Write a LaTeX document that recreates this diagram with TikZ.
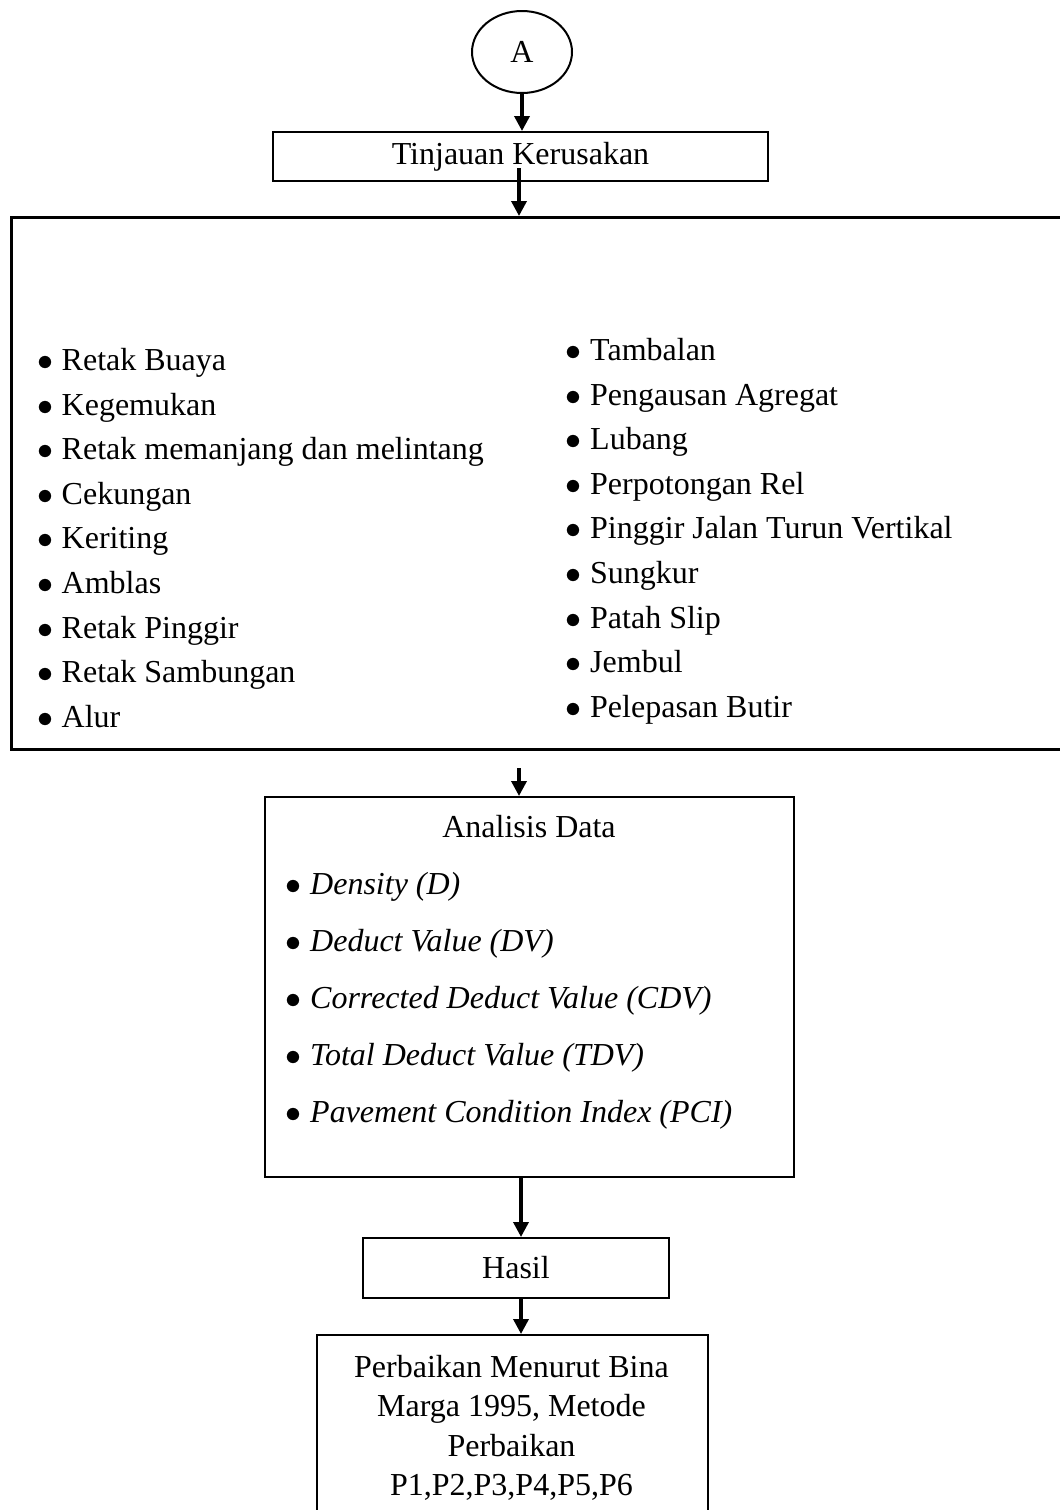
\documentclass[tikz,border=0pt]{standalone}
\usepackage{fix-cm}
\usepackage{fontspec}
\setmainfont{Liberation Serif}
\usetikzlibrary{shapes.geometric,arrows.meta}

\newcommand{\butir}{\makebox[24.5pt][l]{\upshape$\bullet$}}

\begin{document}
\begin{tikzpicture}[
x=1pt, y=-1pt,
kotak/.style={rectangle, draw=black, line width=2pt, inner sep=0pt},
bulat/.style={ellipse, draw=black, line width=2pt, minimum width=100pt, minimum height=82pt, inner sep=0pt},
judul/.style={inner sep=0pt, font=\fontsize{32}{38}\selectfont},
daftar/.style={align=left, anchor=north west, inner sep=0pt},
panah/.style={-{Triangle[length=15pt,width=15pt]}, line width=3.5pt},
]
\useasboundingbox (0,0) rectangle (1060,1510);
\clip (0,0) rectangle (1060,1510);

%Nodes
\node[bulat](a) at (522,52) {\fontsize{32}{38}\selectfont A};
\node[kotak, minimum width=495pt, minimum height=49pt](tinjauan) at (520.5,156.5) {\fontsize{32}{38}\selectfont Tinjauan Kerusakan};
\node[kotak, line width=2.5pt, minimum width=1090pt, minimum height=532pt, anchor=north west](kerusakan) at (10,216) {};
\node[daftar, font=\fontsize{32}{44.6}\selectfont](kiri) at (37,348.1) {%
\butir Retak Buaya\\
\butir Kegemukan\\
\butir Retak memanjang dan melintang\\
\butir Cekungan\\
\butir Keriting\\
\butir Amblas\\
\butir Retak Pinggir\\
\butir Retak Sambungan\\
\butir Alur};
\node[daftar, font=\fontsize{32}{44.6}\selectfont](kanan) at (565.5,338.1) {%
\butir Tambalan\\
\butir Pengausan Agregat\\
\butir Lubang\\
\butir Perpotongan Rel\\
\butir Pinggir Jalan Turun Vertikal\\
\butir Sungkur\\
\butir Patah Slip\\
\butir Jembul\\
\butir Pelepasan Butir};
\node[kotak, minimum width=529pt, minimum height=380pt, anchor=north west](analisis) at (264,796) {};
\node[judul, anchor=base](analisisjudul) at (529,837) {Analisis Data};
\node[daftar, font=\fontsize{32}{57}\selectfont\itshape](parameter) at (285.5,871.8) {%
\butir Density (D)\\
\butir Deduct Value (DV)\\
\butir Corrected Deduct Value (CDV)\\
\butir Total Deduct Value (TDV)\\
\butir Pavement Condition Index (PCI)};
\node[kotak, minimum width=306pt, minimum height=60pt](hasil) at (516,1268) {\fontsize{32}{38}\selectfont Hasil};
\node[kotak, minimum width=391pt, minimum height=220pt, anchor=north west](perbaikan) at (316,1334) {};
\node[judul, align=center, anchor=north, font=\fontsize{32}{39.3}\selectfont](perbaikanteks) at (511.5,1355.1) {Perbaikan Menurut Bina\\ Marga 1995, Metode\\ Perbaikan\\ P1,P2,P3,P4,P5,P6};

%Arrows
\coordinate (p2) at (519,168);
\coordinate (p3) at (519,768);
\coordinate (p4) at (521,1176);
\draw[panah] (a) -- (a |- tinjauan.north);
\draw[panah] (p2) -- (p2 |- kerusakan.north);
\draw[panah] (p3) -- (p3 |- analisis.north);
\draw[panah] (p4) -- (p4 |- hasil.north);
\draw[panah] (p4 |- hasil.south) -- (p4 |- perbaikan.north);
\end{tikzpicture}
\end{document}
